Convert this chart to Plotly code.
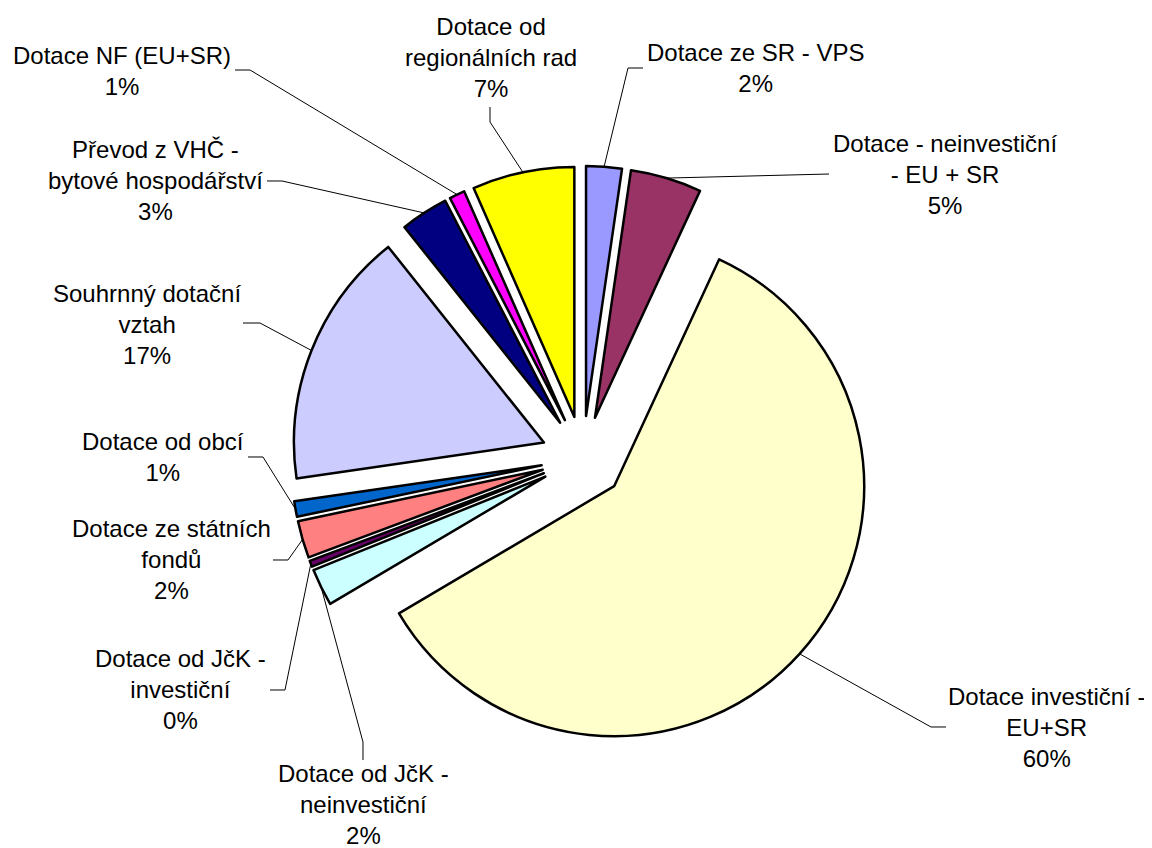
import math
import plotly.graph_objects as go

# data (clockwise from 12 o'clock)
kategorie = [
    "Dotace ze SR - VPS",
    "Dotace - neinvestiční<br>- EU + SR",
    "Dotace investiční -<br>EU+SR",
    "Dotace od JčK -<br>neinvestiční",
    "Dotace od JčK -<br>investiční",
    "Dotace ze státních<br>fondů",
    "Dotace od obcí",
    "Souhrnný dotační<br>vztah",
    "Převod z VHČ -<br>bytové hospodářství",
    "Dotace NF (EU+SR)",
    "Dotace od<br>regionálních rad",
]
podily = [2.3, 4.6, 59.6, 2.4, 0.4, 2.4, 1.0, 16.6, 3.1, 1.0, 6.6]
barvy = ["#9999FF", "#993366", "#FFFFCC", "#CCFFFF", "#660066", "#FF8080",
         "#0066CC", "#CCCCFF", "#000080", "#FF00FF", "#FFFF00"]

# label placement in page px: text centre, leader start, leader elbow
popisky = [
    ((755, 68), (643, 68), (628, 68)),
    ((945, 175), (829, 174), (829, 174)),
    ((1046, 727), (946, 727), (931, 727)),
    ((363, 804), (363, 760), (363, 742)),
    ((180, 689), (270, 690), (285, 690)),
    ((171, 559), (273, 560), (288, 560)),
    ((163, 457), (248, 457), (263, 457)),
    ((147, 324), (243, 323), (260, 323)),
    ((155, 181), (267, 181), (282, 181)),
    ((122, 71), (235, 70), (250, 70)),
    ((491, 57), (490, 107), (490, 122)),
]

# page has an 8px body margin, so the figure is 8px smaller each way
OFF = 8
W, H = 1152 - OFF, 848 - OFF
pull = 0.168
stred_x, stred_y, pul = 583, 458, 292   # pie centre and half box in page px

dom_x = [(stred_x - OFF - pul) / W, (stred_x - OFF + pul) / W]
dom_y = [1 - (stred_y - OFF + pul) / H, 1 - (stred_y - OFF - pul) / H]


def paper(x, y):
    return (x - OFF) / W, 1 - (y - OFF) / H


fig = go.Figure()
fig.add_trace(go.Pie(
    labels=kategorie, values=podily, sort=False, direction="clockwise", rotation=0,
    marker=dict(colors=barvy, line=dict(color="black", width=2.5)),
    pull=pull, textinfo="none", showlegend=False,
    domain=dict(x=dom_x, y=dom_y),
))

celkem = sum(podily)
kum = 0
shapes = []
annotations = []
for name, v, (stred, start, loket) in zip(kategorie, podily, popisky):
    theta = 2 * math.pi * (kum + v / 2) / celkem
    kum += v
    # outer arc midpoint of the pulled slice
    px = stred_x + pul * math.sin(theta)
    py = stred_y - pul * math.cos(theta)
    pts = [paper(*start), paper(*loket), paper(px, py)]
    path = "M " + " L ".join(f"{x:.5f},{y:.5f}" for x, y in pts)
    shapes.append(dict(type="path", path=path, xref="paper", yref="paper",
                       line=dict(color="black", width=1)))
    ax, ay = paper(*stred)
    annotations.append(dict(
        text=f"{name}<br>{round(v / celkem * 100)}%",
        x=ax, y=ay, xref="paper", yref="paper",
        xanchor="center", yanchor="middle", showarrow=False, align="center",
        font=dict(family="Liberation Sans, Arial", size=24, color="black"),
    ))

fig.update_layout(
    width=W, height=H, margin=dict(l=0, r=0, t=0, b=0),
    paper_bgcolor="white", plot_bgcolor="white",
    shapes=shapes, annotations=annotations,
)

fig.write_html("out.html")
